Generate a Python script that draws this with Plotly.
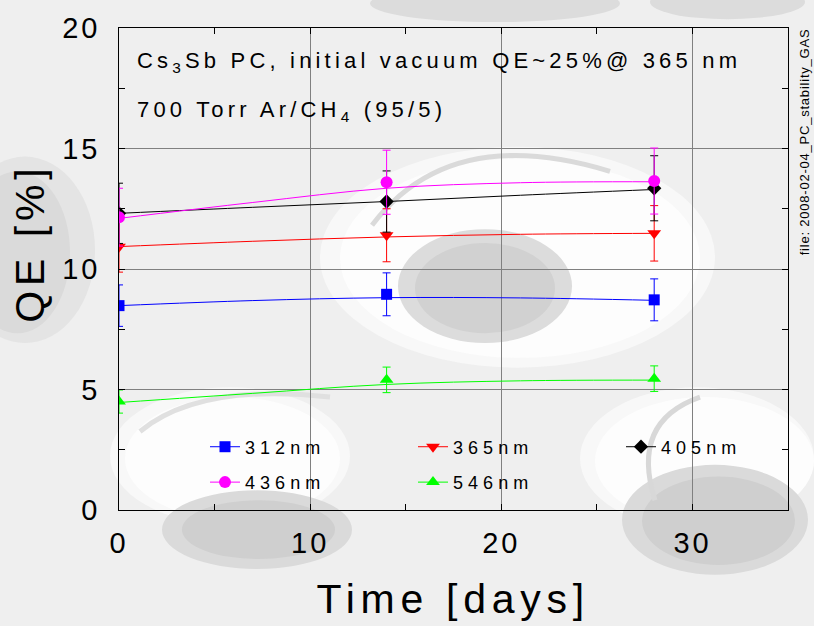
import plotly.graph_objects as go

# ---------------- data ----------------
days = [0, 14, 28]
qe_312 = [8.48, 8.95, 8.72]
err_312 = [0.86, 0.89, 0.87]
qe_365 = [10.92, 11.40, 11.48]
err_365 = [1.05, 1.10, 1.15]
qe_405 = [12.31, 12.80, 13.35]
err_405 = [1.25, 1.27, 1.35]
qe_436 = [12.15, 13.60, 13.65]
err_436 = [1.20, 1.33, 1.37]
qe_546 = [4.50, 5.40, 5.45]
err_546 = [0.48, 0.53, 0.53]

# smooth fit curves
fit_days = [0, 7, 14, 21, 28]
fit_312 = [8.48, 8.69, 8.81, 8.80, 8.70]
fit_365 = [10.93, 11.15, 11.33, 11.44, 11.48]
fit_405 = [12.31, 12.56, 12.80, 13.06, 13.30]
fit_436 = [12.10, 12.76, 13.35, 13.58, 13.62]
fit_546 = [4.46, 4.84, 5.21, 5.36, 5.39]

labels = ["312nm", "365nm", "405nm", "436nm", "546nm"]
x_ticks = [0, 10, 20, 30]
y_ticks = [0, 5, 10, 15, 20]

series = [
    (labels[0], qe_312, err_312, fit_312, "#0000ff", "square", 11, "legend"),
    (labels[1], qe_365, err_365, fit_365, "#ff0000", "triangle-down", 12, "legend2"),
    (labels[2], qe_405, err_405, fit_405, "#000000", "diamond", 11, "legend3"),
    (labels[3], qe_436, err_436, fit_436, "#ff00ff", "circle", 12, "legend"),
    (labels[4], qe_546, err_546, fit_546, "#00ff00", "triangle-up", 12, "legend2"),
]

FONT = "Liberation Sans, Arial, sans-serif"

fig = go.Figure()

for name, y, e, fy, col, sym, ms, lg in series:
    fig.add_trace(go.Scatter(
        x=fit_days, y=fy, mode="lines", line=dict(color=col, width=1, shape="spline"),
        showlegend=False, hoverinfo="skip"))
    fig.add_trace(go.Scatter(
        x=days, y=y, mode="markers",
        marker=dict(color=col, symbol=sym, size=ms),
        error_y=dict(type="data", array=e, color=col, thickness=1, width=4),
        showlegend=False, name=name))
    # legend entry (line + marker)
    fig.add_trace(go.Scatter(
        x=[None], y=[None], mode="lines+markers", name=name, legend=lg, legendgroup=name,
        line=dict(color=col, width=1), marker=dict(color=col, symbol=sym, size=ms)))

# ---------------- background blobs (decoration) ----------------
L, R, T, B = 119, 788, 19, 510
W, H = R - L, B - T

def px(x):
    return (x - L) / W

def py(y):
    return (B - y) / H

blobs = [
    (320, 140, 715, 365, "#f8f8f8"),
    (340, 152, 700, 355, "#fdfdfd"),
    (110, 385, 350, 525, "#f8f8f8"),
    (125, 395, 340, 520, "#fdfdfd"),
    (580, 385, 814, 530, "#f8f8f8"),
    (595, 395, 814, 525, "#fdfdfd"),
    (398, 224, 572, 340, "#dcdcdc"),
    (415, 238, 555, 330, "#d1d1d1"),
    (-45, 150, 95, 340, "#e4e4e4"),
    (-35, 165, 70, 330, "#dadada"),
    (162, 490, 352, 570, "#dadada"),
    (182, 500, 335, 560, "#cfcfcf"),
    (622, 464, 808, 576, "#dadada"),
    (642, 476, 795, 566, "#cfcfcf"),
    (370, -25, 620, 13, "#dcdcdc"),
    (650, -25, 805, 10, "#dcdcdc"),
]
shapes = []
for x0, y0, x1, y1, c in blobs:
    shapes.append(dict(type="circle", xref="paper", yref="paper",
                       x0=px(x0), x1=px(x1), y0=py(y1), y1=py(y0),
                       fillcolor=c, line=dict(width=0), layer="below"))
arcs = [
    (372, 220, 450, 115, 610, 165, "#dadada"),
    (140, 430, 200, 380, 330, 395, "#e0e0e0"),
    (655, 500, 630, 420, 700, 395, "#d8d8d8"),
]
for ax0, ay0, cx, cy, ax1, ay1, c in arcs:
    shapes.append(dict(type="path", xref="paper", yref="paper", layer="below",
                       path="M %f,%f Q %f,%f %f,%f" % (px(ax0), py(ay0), px(cx), py(cy), px(ax1), py(ay1)),
                       line=dict(color=c, width=5)))

# ---------------- annotations ----------------
annotations = [
    dict(text="Cs<sub>3</sub>Sb PC, initial vacuum QE~25%@ 365 nm", align="left",
         x=px(135), y=py(54), xref="paper", yref="paper", xanchor="left", yanchor="middle",
         showarrow=False, font=dict(size=22, color="black", family=FONT)),
    dict(text="700 Torr Ar/CH<sub>4</sub> (95/5)", align="left",
         x=px(135), y=py(104), xref="paper", yref="paper", xanchor="left", yanchor="middle",
         showarrow=False, font=dict(size=22, color="black", family=FONT)),
    dict(text="Time [days]", x=px(453), y=py(601), xref="paper", yref="paper",
         xanchor="center", yanchor="middle", showarrow=False,
         font=dict(size=41, color="black", family=FONT)),
    dict(text="QE [%]", x=px(30), y=py(238), xref="paper", yref="paper", textangle=-90,
         xanchor="center", yanchor="middle", showarrow=False,
         font=dict(size=41, color="black", family=FONT)),
    dict(text="file: 2008-02-04_PC_stability_GAS", x=px(805), y=py(18), xref="paper", yref="paper",
         textangle=-90, xanchor="center", yanchor="top", showarrow=False, align="right",
         font=dict(size=13, color="black", family=FONT)),
]

axis_common = dict(
    showline=True, linecolor="black", linewidth=1, mirror="ticks",
    showgrid=True, gridcolor="#808080", gridwidth=1, zeroline=False,
    ticks="inside", ticklen=6, tickcolor="black",
    tickfont=dict(size=29, color="black", family=FONT),
)

leg_common = dict(orientation="v", xanchor="left", yanchor="top",
                  bgcolor="rgba(0,0,0,0)", traceorder="grouped", tracegroupgap=9,
                  font=dict(size=18, color="black", family=FONT), itemclick=False)

fig.update_layout(
    width=814, height=626,
    margin=dict(l=L, r=814 - R, t=T, b=626 - B),
    paper_bgcolor="#efefef", plot_bgcolor="rgba(0,0,0,0)",
    xaxis=dict(range=[0, 35], tickvals=x_ticks, ticklabelstandoff=7,
               minor=dict(dtick=5, ticks="inside", ticklen=6, tickcolor="black", showgrid=False),
               **axis_common),
    yaxis=dict(range=[0, 20], tickvals=y_ticks, ticklabelstandoff=12,
               minor=dict(dtick=2.5, ticks="inside", ticklen=6, tickcolor="black", showgrid=False),
               **axis_common),
    shapes=shapes,
    annotations=annotations,
    legend=dict(x=px(205), y=py(427), **leg_common),
    legend2=dict(x=px(413), y=py(427), **leg_common),
    legend3=dict(x=px(621), y=py(427), **leg_common),
    font=dict(family=FONT, color="black"),
)

css = (
    ".xtick text, .ytick text {letter-spacing: 0.1em;}"
    "text.legendtext, text.legend2text, text.legend3text {letter-spacing: 0.28em;}"
    "g.legend .scrollbox, g.legend2 .scrollbox, g.legend3 .scrollbox {clip-path: none !important;}"
    ".annotation[data-index='0'] text, .annotation[data-index='1'] text {letter-spacing: 0.19em;}"
    ".annotation[data-index='2'] text {letter-spacing: 0.14em;}"
    ".annotation[data-index='3'] text {letter-spacing: 0.12em;}"
    ".annotation[data-index='4'] text {letter-spacing: 0.06em;}"
)
post_script = (
    "var s=document.createElement('style');"
    "s.textContent=\"" + css + "\";"
    "document.head.appendChild(s);"
)

fig.write_html("out.html", post_script=post_script)
